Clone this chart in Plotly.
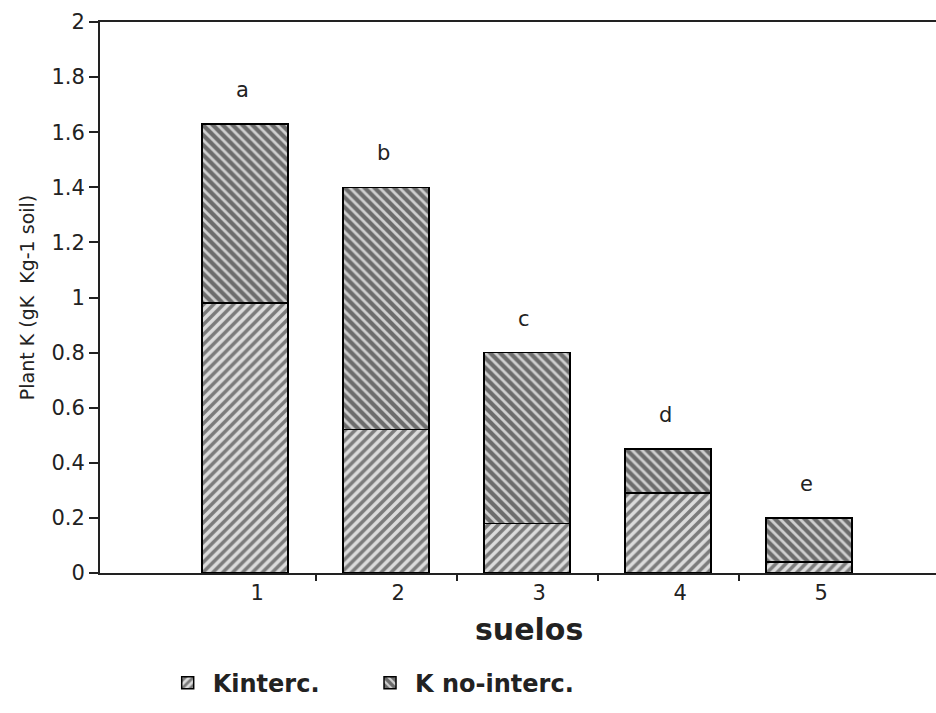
import plotly.graph_objects as go

suelos = [1, 2, 3, 4, 5]
tick_labels = ["1", "2", "3", "4", "5"]
k_interc = [0.98, 0.52, 0.18, 0.29, 0.04]
k_no_interc = [0.65, 0.88, 0.62, 0.16, 0.16]
letters = ["a", "b", "c", "d", "e"]
y_ticks = [0, 0.2, 0.4, 0.6, 0.8, 1, 1.2, 1.4, 1.6, 1.8, 2]
boundary_ticks = [1.5, 2.5, 3.5, 4.5]

FONT = "DejaVu Sans, Liberation Sans, Arial, sans-serif"
LEGEND_FONT = dict(size=24, family=FONT, weight="bold", color="#222")

fig = go.Figure()
fig.add_trace(go.Bar(
    x=suelos, y=k_interc, name="Kinterc.", width=0.61, legend="legend",
    marker=dict(color="white", line=dict(color="black", width=1.5),
                pattern=dict(shape="/", fgcolor="#1a1a1a", bgcolor="#dcdcdc",
                             size=7, solidity=0.5)),
))
fig.add_trace(go.Bar(
    x=suelos, y=k_no_interc, name="K no-interc.", width=0.61, legend="legend2",
    marker=dict(color="white", line=dict(color="black", width=1.5),
                pattern=dict(shape="\\", fgcolor="#0a0a0a", bgcolor="#cfcfcf",
                             size=7, solidity=0.6)),
))
# invisible trace on a second x axis to draw category boundary ticks
fig.add_trace(go.Scatter(x=boundary_ticks, y=[None]*4, xaxis="x2", showlegend=False,
                         hoverinfo="skip"))

totals = [a + b for a, b in zip(k_interc, k_no_interc)]
for xv, tv, lt in zip(suelos, totals, letters):
    fig.add_annotation(x=xv - 0.02, y=tv, text=lt, showarrow=False, yshift=34,
                       font=dict(family=FONT, size=21, color="#222"))

# x-axis title
fig.add_annotation(xref="paper", yref="paper", x=0.513, y=-0.103, text="<b>suelos</b>",
                   showarrow=False, yanchor="middle", xanchor="center",
                   font=dict(family=FONT, size=30, color="#222"))

fig.update_layout(
    width=936, height=713,
    margin=dict(l=100, r=0, t=22, b=140),
    barmode="stack",
    plot_bgcolor="white", paper_bgcolor="white",
    font=dict(family=FONT, color="#222"),
    xaxis=dict(range=[-0.03, 5.9], tickvals=[s + 0.085 for s in suelos],
               ticktext=tick_labels, ticks="", showgrid=False, zeroline=False,
               showline=True, linecolor="#222", linewidth=2, mirror=True,
               tickfont=dict(size=21)),
    xaxis2=dict(range=[-0.03, 5.9], overlaying="x", anchor="y", side="bottom",
                tickvals=boundary_ticks, showticklabels=False, ticks="outside",
                ticklen=7, tickwidth=1.5, tickcolor="#222", showgrid=False,
                zeroline=False, showline=False),
    yaxis=dict(range=[0, 2], tickvals=y_ticks, ticktext=[f"{v:g}" for v in y_ticks],
               ticks="outside", ticklen=9, tickwidth=1.5, tickcolor="#222",
               showgrid=False, zeroline=False, showline=True, linecolor="#222",
               linewidth=2, tickfont=dict(size=21),
               title=dict(text="Plant K (gK  Kg-1 soil)", font=dict(size=19), standoff=12)),
    legend=dict(orientation="h", x=0.075, xanchor="left", y=-0.2, yanchor="middle",
                font=LEGEND_FONT, itemwidth=40),
    legend2=dict(orientation="h", x=0.317, xanchor="left", y=-0.2, yanchor="middle",
                 font=LEGEND_FONT, itemwidth=40),
    showlegend=True,
)

fig.write_html("out.html")
